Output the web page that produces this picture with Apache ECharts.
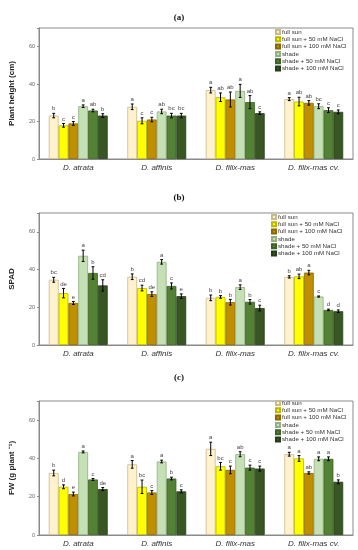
<!DOCTYPE html>
<html><head><meta charset="utf-8">
<script src="https://cdn.jsdelivr.net/npm/echarts@6/dist/echarts.min.js"></script>
<style>html,body{margin:0;padding:0;background:#fff}#c{width:358px;height:550px}</style>
</head><body><div id="c"></div>
<script>
var categories = ['D. atrata', 'D. affinis', 'D. filix-mas', 'D. filix-mas cv.'];
var treatments = ['full sun', 'full sun + 50 mM NaCl', 'full sun + 100 mM NaCl', 'shade', 'shade + 50 mM NaCl', 'shade + 100 mM NaCl'];
var yTicks = [0, 20, 40, 60];

// (a) Plant height (cm): [treatment][category]
var heightMean = [[23.2, 27.9, 36.8, 32.0], [18.0, 20.4, 33.0, 30.7], [19.0, 21.1, 31.8, 30.0], [28.2, 25.4, 36.4, 28.2], [25.9, 23.2, 30.4, 26.1], [23.2, 23.2, 24.5, 25.2]];
var heightErr = [[1.2, 1.5, 1.5, 0.8], [1.0, 1.6, 2.3, 2.3], [1.0, 1.2, 4.0, 1.2], [0.7, 1.2, 3.5, 1.3], [0.7, 1.2, 3.5, 1.3], [1.0, 1.2, 0.7, 1.0]];
var heightLetters = [['b', 'a', 'a', 'a'], ['c', 'c', 'ab', 'ab'], ['c', 'c', 'ab', 'ab'], ['a', 'ab', 'a', 'bc'], ['ab', 'bc', 'ab', 'c'], ['b', 'bc', 'c', 'c']];

// (b) SPAD
var spadMean = [[34.6, 36.2, 25.0, 36.1], [27.5, 30.2, 25.5, 36.4], [22.3, 27.0, 22.7, 38.4], [47.3, 44.1, 30.7, 25.7], [38.2, 31.3, 22.9, 18.6], [31.6, 25.9, 19.6, 17.9]];
var spadErr = [[1.3, 1.5, 1.5, 0.6], [2.5, 1.5, 0.7, 1.2], [0.8, 1.2, 1.5, 1.2], [3.0, 1.2, 1.2, 0.3], [3.3, 1.6, 1.2, 0.4], [3.0, 1.2, 1.5, 0.7]];
var spadLetters = [['bc', 'b', 'b', 'b'], ['de', 'cd', 'b', 'ab'], ['e', 'de', 'b', 'a'], ['a', 'a', 'a', 'c'], ['b', 'c', 'b', 'd'], ['cd', 'e', 'c', 'd']];

// (c) FW (g plant-1)
var fwMean = [[32.4, 36.9, 45.0, 42.2], [25.2, 25.2, 35.9, 40.0], [21.4, 22.2, 34.0, 32.4], [43.4, 38.4, 42.2, 39.8], [29.0, 29.5, 35.2, 39.8], [24.0, 22.8, 34.7, 27.8]];
var fwErr = [[1.5, 2.0, 3.5, 1.0], [1.0, 3.5, 2.0, 1.5], [1.0, 1.0, 2.0, 0.6], [0.5, 0.7, 1.3, 1.0], [0.5, 0.7, 1.3, 1.0], [0.8, 0.8, 1.3, 1.0]];
var fwLetters = [['b', 'a', 'a', 'a'], ['d', 'bc', 'bc', 'a'], ['e', 'c', 'c', 'ab'], ['a', 'a', 'ab', 'a'], ['c', 'b', 'c', 'a'], ['de', 'c', 'c', 'b']];

var panels = [
  {title: '(a)', yName: 'Plant height (cm)', mean: heightMean, err: heightErr, letters: heightLetters},
  {title: '(b)', yName: 'SPAD', mean: spadMean, err: spadErr, letters: spadLetters},
  {title: '(c)', yName: 'FW (g plant \u207B\u00B9)', mean: fwMean, err: fwErr, letters: fwLetters}
];

var colors = ['#FFF2CC', '#FFFF00', '#BF8F00', '#C5E0B4', '#548235', '#375623'];
var borders = ['#C9B98E', '#B8B800', '#8A6700', '#93AF83', '#3E6226', '#253D17'];
var layout = [
  {top: 28, height: 131, titleTop: 8, legendTop: 29, legendLeft: 275},
  {top: 213, height: 132, titleTop: 188, legendTop: 214, legendLeft: 271},
  {top: 401, height: 134, titleTop: 368, legendTop: 400, legendLeft: 275}
];
var GAP = 0.25;

var option = {
  animation: false,
  backgroundColor: '#fff',
  title: [], grid: [], xAxis: [], yAxis: [], legend: [], series: []
};

panels.forEach(function (p, gi) {
  var L = layout[gi];
  option.title.push({text: p.title, left: 'center', top: L.titleTop,
    textStyle: {fontFamily: 'Liberation Serif', fontWeight: 'bold', fontSize: 9, color: '#111'}});
  option.grid.push({left: 37, right: 5, top: L.top, height: L.height, show: true,
    borderColor: '#8a8a8a', borderWidth: 1, backgroundColor: 'transparent'});
  option.xAxis.push({type: 'category', gridIndex: gi, data: categories,
    axisLine: {lineStyle: {color: '#8a8a8a'}}, axisTick: {show: false},
    axisLabel: {fontStyle: 'italic', fontSize: 8, color: '#333', margin: 5, fontFamily: 'Liberation Sans'}});
  option.yAxis.push({type: 'value', gridIndex: gi, min: 0, max: 70, interval: 20,
    name: p.yName, nameLocation: 'middle', nameGap: 23,
    nameTextStyle: {fontWeight: 'bold', fontSize: 8, color: '#222', fontFamily: 'Liberation Sans'},
    axisLine: {show: true, lineStyle: {color: '#8a8a8a'}},
    axisTick: {show: true, length: 2, lineStyle: {color: '#8a8a8a'}},
    splitLine: {show: false},
    axisLabel: {fontSize: 5.5, color: '#666', margin: 4, fontFamily: 'Liberation Sans',
      formatter: function (v) { return yTicks.indexOf(v) >= 0 ? String(v) : ''; }}});
  option.legend.push({orient: 'vertical', left: L.legendLeft, top: L.legendTop,
    data: treatments, icon: 'rect', itemWidth: 4, itemHeight: 4, itemGap: 1.3,
    padding: 0, textStyle: {fontSize: 6.2, color: '#333', padding: [0, 0, 0, -3], fontFamily: 'Liberation Sans', lineHeight: 6}});
  treatments.forEach(function (t, ti) {
    option.series.push({type: 'bar', name: t, xAxisIndex: gi, yAxisIndex: gi,
      data: p.mean[ti], barGap: '0%', barCategoryGap: (GAP * 100) + '%',
      itemStyle: {color: colors[ti], borderColor: borders[ti], borderWidth: 0.8}});
  });
  treatments.forEach(function (t, ti) {
    var d = p.mean[ti].map(function (m, ci) { return [ci, m, p.err[ti][ci], p.letters[ti][ci]]; });
    option.series.push({type: 'custom', name: t + ' err', xAxisIndex: gi, yAxisIndex: gi, data: d, z: 5,
      renderItem: function (params, api) {
        var ci = api.value(0), m = api.value(1), e = api.value(2);
        var letter = d[params.dataIndex][3];
        var band = api.size([1, 0])[0];
        var groupW = band * (1 - GAP);
        var bw = groupW / treatments.length;
        var c = api.coord([ci, m]);
        var x = c[0] - groupW / 2 + (ti + 0.5) * bw;
        var yTop = api.coord([ci, m + e])[1];
        var yBot = api.coord([ci, m - e])[1];
        var cap = 1.4;
        return {type: 'group', children: [
          {type: 'line', shape: {x1: x, y1: yTop, x2: x, y2: yBot}, style: {stroke: '#000', lineWidth: 1}},
          {type: 'line', shape: {x1: x - cap, y1: yTop, x2: x + cap, y2: yTop}, style: {stroke: '#000', lineWidth: 1}},
          {type: 'line', shape: {x1: x - cap, y1: yBot, x2: x + cap, y2: yBot}, style: {stroke: '#000', lineWidth: 1}},
          {type: 'text', style: {text: letter, x: x, y: yTop - 1.5, textAlign: 'center', textVerticalAlign: 'bottom',
            fontSize: 6, fill: '#444', fontFamily: 'Liberation Sans'}}
        ]};
      }});
  });
});

var chart = echarts.init(document.getElementById('c'), null, {renderer: 'canvas'});
chart.setOption(option);
</script>
</body></html>
